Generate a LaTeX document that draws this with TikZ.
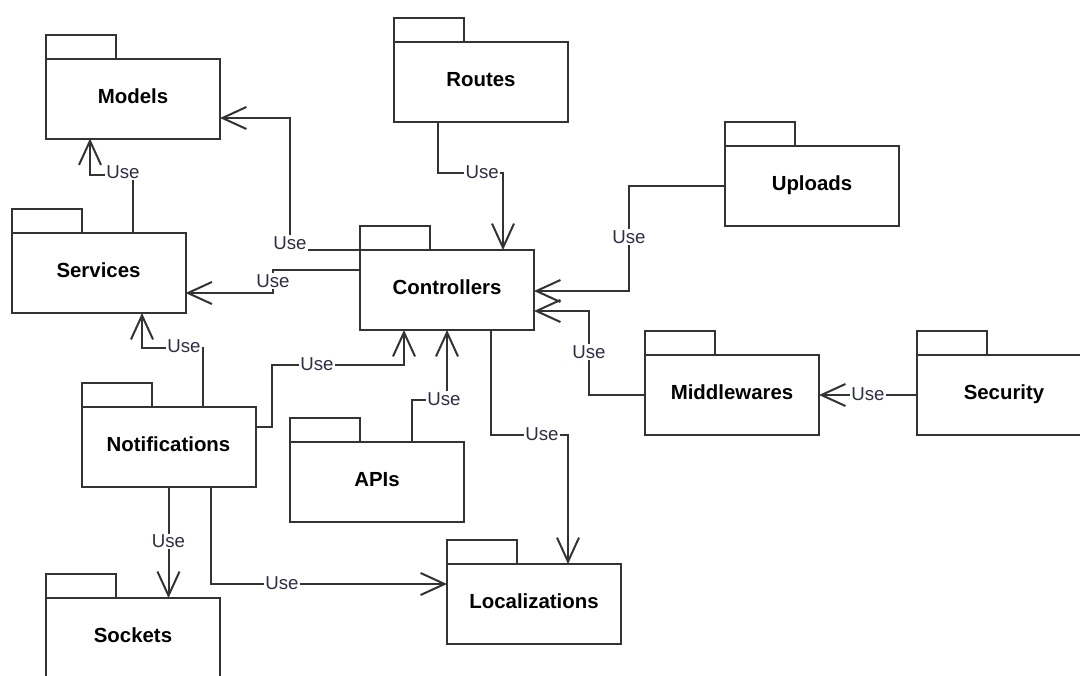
\documentclass[tikz,border=0pt]{standalone}
\usepackage{fontspec}
\setmainfont{Liberation Sans}
\usetikzlibrary{arrows.meta,calc}
\definecolor{ln}{RGB}{51,51,51}
\definecolor{lc}{RGB}{45,45,70}
\begin{document}
\begin{tikzpicture}[x=0.75pt,y=-0.75pt,
  pkg/.style={draw=ln, line width=1.5pt, minimum width=130.5pt, minimum height=60pt,
    inner sep=0pt, outer sep=0pt, text height=11pt, text depth=4pt,
    font=\fontsize{15.3}{18}\selectfont\bfseries},
  tabst/.style={draw=ln, line width=1.5pt},
  usearr/.style={draw=ln, line width=1.5pt, line join=miter,
    -{Straight Barb[length=18pt,width=16.5pt]}},
  lbl/.style={fill=white, inner sep=1pt, text=lc, font=\fontsize{14}{16}\selectfont}]
\fill[white] (0,0) rectangle (1080,675);
\useasboundingbox (0,0) rectangle (1080,675);
\clip (0,0) rectangle (1080,675);

% packages
\node[pkg] (models) at (133,98.5) {Models};
\node[pkg] (routes) at (481,82) {Routes};
\node[pkg] (uploads) at (812,186) {Uploads};
\node[pkg] (services) at (98.5,273) {Services};
\node[pkg] (ctrl) at (447,290) {Controllers};
\node[pkg] (mid) at (732,395) {Middlewares};
\node[pkg] (sec) at (1004,395) {Security};
\node[pkg] (notif) at (168.5,447) {Notifications};
\node[pkg] (apis) at (377,482) {APIs};
\node[pkg] (loc) at (534,604) {Localizations};
\node[pkg] (sock) at (133,638) {Sockets};

\foreach \p in {models,routes,uploads,services,ctrl,mid,sec,notif,apis,loc,sock}
  \draw[tabst] (\p.north west) rectangle ++(70,-24);

% connectors
% Services -> Models
\draw[usearr] ($(services.north)+(34.5,0)$) |- ($(models.south)+(-43,36)$)
  node[lbl, pos=0.616, yshift=1.5pt] (l1) {Use} -- ($(models.south)+(-43,0)$);
% Controllers -> Models
\draw[usearr] (ctrl.north west) -- (290,250) |- ($(models.east)+(0,19.5)$);
\node[lbl] (l2) at (290,243) {Use};
% Controllers -> Services
\draw[usearr] ($(ctrl.west)+(0,-20)$) -- (273,270) |- ($(services.east)+(0,20)$);
\node[lbl] (l3) at (273,281) {Use};
% Routes -> Controllers
\draw[usearr] ($(routes.south)+(-43,0)$) |- ($(ctrl.north)+(56,-77)$)
  node[lbl, pos=0.84, yshift=1pt] (l4) {Use} -- ($(ctrl.north)+(56,0)$);
% Uploads -> Controllers
\draw[usearr] (uploads.west) -- (629,186) |- ($(ctrl.east)+(0,1)$);
\node[lbl] (l5) at (629,237) {Use};
% Middlewares -> Controllers
\draw[usearr] (mid.west) -- (589,395) |- ($(ctrl.east)+(0,21)$);
\node[lbl] (l6) at (589,352) {Use};
% Security -> Middlewares
\draw[usearr] (sec.west) -- node[lbl, pos=0.5, yshift=0.75pt] (l7) {Use} (mid.east);
% Notifications -> Services
\draw[usearr] ($(notif.north)+(34.5,0)$) |- ($(services.south)+(43.5,35)$)
  node[lbl, pos=0.656, yshift=1.5pt] (l8) {Use} -- ($(services.south)+(43.5,0)$);
% Notifications -> Controllers
\draw[usearr] ($(notif.east)+(0,-20)$) -- (272,427) -- (272,365) -| ($(ctrl.south)+(-43,0)$);
\node[lbl] (l9) at (317,364) {Use};
% APIs -> Controllers
\draw[usearr] ($(apis.north)+(35,0)$) -- (412,400) -| (ctrl.south);
\node[lbl] (l10) at (444,399) {Use};
% Controllers -> Localizations
\draw[usearr] ($(ctrl.south)+(44,0)$) -- (491,435) -| ($(loc.north)+(34,0)$);
\node[lbl] (l11) at (542,434) {Use};
% Notifications -> Sockets
\draw[usearr] (notif.south) -- node[lbl, pos=0.49] (l12) {Use} ($(sock.north)+(35.5,0)$);
% Notifications -> Localizations
\draw[usearr] ($(notif.south)+(42.5,0)$) |- ($(loc.west)+(0,-20)$);
\node[lbl] (l13) at (282,583) {Use};
\end{tikzpicture}
\end{document}
